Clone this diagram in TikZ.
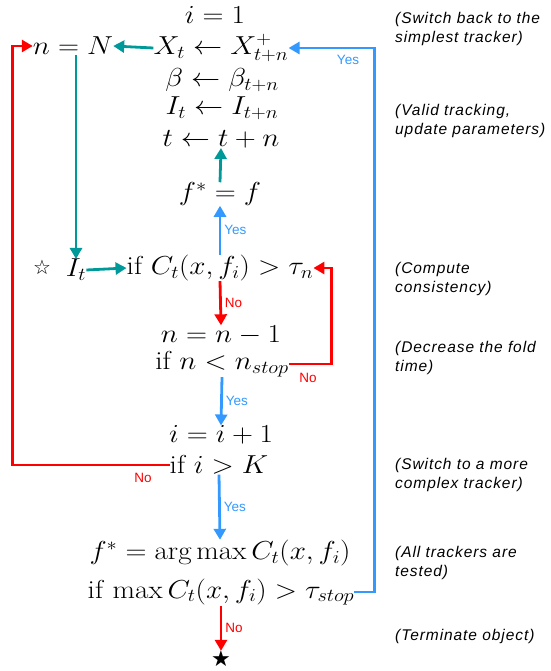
\RequirePackage{fix-cm}
\documentclass[tikz,border=0pt]{standalone}
\usepackage{amsmath,amssymb}
\usepackage{graphicx}
\usepackage{fontspec}
\setsansfont{Liberation Sans}
\newfontfamily\symfont{DejaVu Sans}
\usetikzlibrary{arrows.meta,positioning}
\definecolor{gocol}{RGB}{0,153,153}
\definecolor{yescol}{RGB}{51,153,255}
\definecolor{nocol}{RGB}{255,0,0}
\newcommand{\wideeq}[1]{\scalebox{1.12}[1]{$#1$}}

\begin{document}
\begin{tikzpicture}[
  x=1pt, y=-1pt,
  every node/.style={inner sep=0pt},
  eq/.style={font=\fontsize{26}{31}\selectfont},
  note/.style={font=\sffamily\itshape\fontsize{15.5}{19}\selectfont\addfontfeatures{LetterSpace=6}, align=left, anchor=west},
  lbl/.style={font=\sffamily\fontsize{13.5}{16}\selectfont},
  flow/.style={line width=2.8pt, -{Triangle[length=11pt,width=12pt]}},
  go/.style={flow, gocol},
  yes/.style={flow, yescol},
  no/.style={flow, nocol}
]
\useasboundingbox (0,0) rectangle (550,671);

% update branch
\node[eq] (init) at (215,15) {\wideeq{i=1}};
\node[eq] (reset) at (73,46) {\wideeq{n=N}};
\node[eq] (upd1) at (221,48) {\wideeq{X_t\leftarrow X^{+}_{t+n}}};
\node[eq] (upd2) at (222,80) {\wideeq{\beta\leftarrow \beta_{t+n}}};
\node[eq] (upd3) at (222,108) {\wideeq{I_t\leftarrow I_{t+n}}};
\node[eq] (upd4) at (221,139) {\wideeq{t\leftarrow t+n}};
\node[eq] (fbest) at (220,194) {\wideeq{f^{*}=f}};

% consistency test
\node[font=\symfont\fontsize{20}{24}\selectfont] (wstar) at (42,267) {☆};
\node[eq] (frame) at (76,270) {\wideeq{I_t}};
\node[eq] (cons) at (220,268) {\wideeq{\mathrm{if}\ C_t(x,f_i)>\tau_n}};
\node[eq] (fold) at (221,335) {\wideeq{n=n-1}};
\node[eq] (nstop) at (222,364) {\wideeq{\mathrm{if}\ n<n_{stop}}};
\node[eq] (inc) at (221,435) {\wideeq{i=i+1}};
\node[eq] (ik) at (219,465) {\wideeq{\mathrm{if}\ i>K}};
\node[eq] (amax) at (220,553) {\wideeq{f^{*}=\arg\max C_t(x,f_i)}};
\node[eq] (tstop) at (221,592) {\wideeq{\mathrm{if}\,\max C_t(x,f_i)>\tau_{stop}}};
\node[font=\symfont\fontsize{22}{26}\selectfont] (stop) at (221,659) {★};

% notes
\node[note] (n1) at (395,29) {(Switch back to the\\simplest tracker)};
\node[note] (n2) at (395,121) {(Valid tracking,\\update parameters)};
\node[note] (n3) at (395,279) {(Compute\\consistency)};
\node[note] (n4) at (395,358) {(Decrease the fold\\time)};
\node[note] (n5) at (395,475) {(Switch to a more\\complex tracker)};
\node[note] (n6) at (395,563) {(All trackers are\\tested)};
\node[note] (n7) at (395,636) {(Terminate object)};

\draw[go] (upd1.west) -- (reset.east);
\draw[go] (frame.north |- reset.south) -- (frame.north);
\draw[go] (fbest.north) -- (upd4.south);
\draw[go] (frame.east) -- (cons.west);

\draw[yes] (cons.north) -- node[lbl, right=3pt, yescol] {Yes} (fbest.south);
\draw[no] (cons.south) -- node[lbl, right=3pt, nocol] {No} (fold.north);
\draw[no] (nstop.east) -- ++(43,0) |- (cons.east);
\node[lbl, nocol] at (308,378) {No};
\draw[yes] (nstop.south) -- node[lbl, right=3pt, yescol] {Yes} (inc.north);
\draw[no] (ik.west) -- ++(-157,0) |- (reset.west);
\node[lbl, nocol] at (143,478) {No};
\draw[yes] (ik.south) -- node[lbl, right=3pt, yescol] {Yes} (amax.north);
\draw[yes] (tstop.east) -- ++(20,0) |- (upd1.east);
\node[lbl, yescol] at (348,60) {Yes};
\draw[no] (tstop.south) -- node[lbl, right=3pt, nocol] {No} (stop.north);
\end{tikzpicture}
\end{document}
